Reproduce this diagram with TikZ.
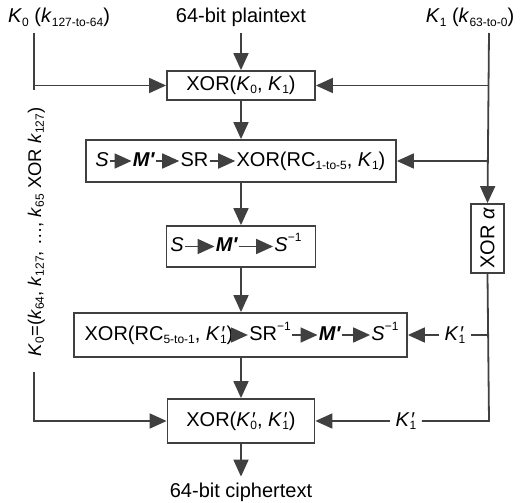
\documentclass[tikz,border=0pt]{standalone}
\usepackage{fontspec}
\setmainfont{Liberation Sans}
\usetikzlibrary{positioning,arrows.meta}
\definecolor{wirec}{HTML}{404040}
\tikzset{
  wire/.style = {line width=0.9pt, draw=wirec},
  arr/.style  = {wire, -{Triangle[length=8.5pt,width=7.5pt]}},
  blk/.style  = {draw=wirec, line width=0.9pt, fill=white, inner sep=0pt,
                 font=\fontsize{10}{12}\selectfont},
  itm/.style  = {inner sep=0.5pt, text height=7.5pt, text depth=2.5pt,
                 font=\fontsize{10}{12}\selectfont},
  lbl/.style  = {inner sep=2.5pt, text height=7.5pt, text depth=2.5pt,
                 font=\fontsize{10}{12}\selectfont},
}
\newcommand{\sub}[1]{\raisebox{-0.3ex}{\fontsize{6}{7}\selectfont #1}}
\newcommand{\Kv}[1]{\textit{K}\sub{#1}}
\newcommand{\kv}[1]{\textit{k}\sub{#1}}
\newcommand{\Kp}[1]{\textit{K}\makebox[0pt][l]{\kern0.3pt\textit{′}}\sub{#1}}
\newcommand{\Mp}{\textbf{\textit{M′}}}
\newcommand{\inv}[1]{#1\raisebox{0.9ex}{\fontsize{6}{7}\selectfont −1}}

\begin{document}
\begin{tikzpicture}[x=0.5pt, y=-0.5pt]
  \useasboundingbox (0,0) rectangle (521,503);
  % inputs
  \node[lbl] (ptxt) at (241,18) {64-bit plaintext};
  \node[lbl] (k0) at (59,18) {\Kv{0} (\kv{127-to-64})};
  \node[lbl] (k1) at (470,18) {\Kv{1} (\kv{63-to-0})};
  \coordinate (ltop) at (34,33);
  \coordinate (lmid) at (34,90);
  \coordinate (lbot) at (34,372);
  \coordinate (rtop) at (489,33);
  \coordinate (rbot) at (489,421);
  % blocks
  \node[blk, minimum width=74pt, minimum height=14.5pt] (x1) at (241,85.5) {XOR(\Kv{0}, \Kv{1})};
  \node[blk, minimum width=155pt, minimum height=21pt] (x2) at (241,161) {};
  \node[blk, minimum width=74.5pt, minimum height=20.5pt] (x3) at (241,246.5) {};
  \node[blk, minimum width=166.5pt, minimum height=22pt] (x4) at (240.5,335) {};
  \node[blk, minimum width=73.5pt, minimum height=22pt] (x5) at (241,421) {XOR(\Kp{0}, \Kp{1})};
  \node[blk, rotate=90, minimum width=34.5pt, minimum height=16.5pt] (xa) at (487.5,238.5) {XOR \textit{α}};
  % round 1
  \node[itm] (s2) at (102,161) {\textit{S}};
  \node[itm] (m2) at (144,161) {\Mp};
  \node[itm] (sr2) at (194.5,161) {SR};
  \node[itm] (r2) at (311,161) {XOR(RC\sub{1-to-5}, \Kv{1})};
  \draw[arr] (s2) -- (m2);
  \draw[arr] (m2) -- (sr2);
  \draw[arr] (sr2) -- (r2);
  % middle
  \node[itm] (s3) at (177,246.5) {\textit{S}};
  \node[itm] (m3) at (227,246.5) {\Mp};
  \node[itm] (si3) at (288,246.5) {\inv{\textit{S}}};
  \draw[arr] (s3) -- (m3);
  \draw[arr] (m3) -- (si3);
  % inverse round
  \node[itm] (r4) at (159,335) {XOR(RC\sub{5-to-1}, \Kp{1})};
  \node[itm] (sr4) at (270,335) {\inv{SR}};
  \node[itm] (m4) at (330,335) {\Mp};
  \node[itm] (si4) at (385,335) {\inv{\textit{S}}};
  \draw[arr] (r4) -- (sr4);
  \draw[arr] (sr4) -- (m4);
  \draw[arr] (m4) -- (si4);
  % data path
  \draw[arr] (ptxt) -- (x1);
  \draw[arr] (x1) -- (x2);
  \draw[arr] (x2) -- (x3);
  \draw[arr] (x3) -- (x4.north -| x3);
  \draw[arr] (x4.south -| x5) -- (x5);
  \node[lbl] (ctxt) at (241,492) {64-bit ciphertext};
  \draw[arr] (x5) -- (ctxt);
  % key K0
  \draw[wire] (ltop) -- (lmid);
  \draw[arr] (ltop |- x1) -- (x1.west);
  \node[lbl, rotate=90, font=\fontsize{9.2}{11}\selectfont] (k0eq) at (36,232) {\Kv{0}=(\kv{64}, \kv{127}, …, \kv{65} XOR \kv{127})};
  \draw[arr] (lbot) |- (x5.west);
  % key K1
  \draw[arr] (rtop) -- (xa.east);
  \draw[arr] (rtop |- x1) -- (x1.east);
  \draw[arr] (rtop |- x2) -- (x2.east);
  \node[lbl] (km) at (455,335) {\Kp{1}};
  \draw[wire] (rtop |- km) -- (km.east);
  \draw[arr] (km) -- (x4.east);
  \node[lbl] (kb) at (406,421) {\Kp{1}};
  \draw[wire] (xa.west) -- (rbot) -- (kb.east);
  \draw[arr] (kb) -- (x5.east);
\end{tikzpicture}
\end{document}
